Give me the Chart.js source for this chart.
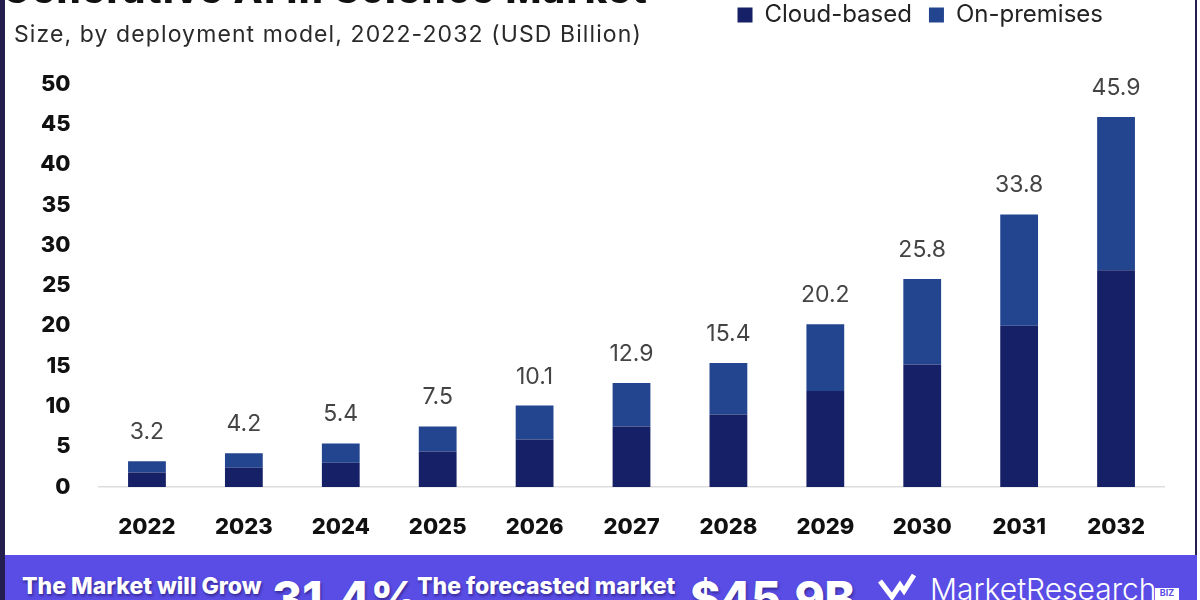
<!DOCTYPE html>
<html>
<head>
<meta charset="utf-8">
<script src="https://cdn.jsdelivr.net/npm/chart.js@4.4.1/dist/chart.umd.min.js"></script>
<style>
  html, body { margin: 0; padding: 0; background: #ffffff; }
  #wrap { position: relative; width: 1200px; height: 600px; overflow: hidden; background: #ffffff; font-family: Inter, "Noto Sans", sans-serif; }
  #chart { position: absolute; left: 0; top: 0; }
  .bl { position: absolute; left: 0; top: 0; width: 5px; height: 600px; background: #231e4e; }
  .br { position: absolute; left: 1195px; top: 0; width: 2px; height: 555px; background: #231e4e; }
  #title { position: absolute; left: 2px; top: -30px; font-size: 38px; font-weight: 800; color: #111; line-height: 1; white-space: nowrap; letter-spacing: 1.5px; }
  #subtitle { position: absolute; left: 14px; top: 23px; font-size: 23px; font-weight: 400; color: #2a2a2a; line-height: 1; white-space: nowrap; letter-spacing: 1.1px; }
  #banner { position: absolute; left: 0; top: 555px; width: 1197px; height: 45px; background: #5a4de6; }
  .bt { position: absolute; color: #ffffff; line-height: 1; white-space: nowrap; text-shadow: 1px 2px 3px rgba(20,10,80,0.55); }
</style>
</head>
<body>
<div id="wrap">
  <canvas id="chart" width="1200" height="600"></canvas>
  <div id="title">Generative AI in Science Market</div>
  <div id="subtitle">Size, by deployment model, 2022-2032 (USD Billion)</div>
  <div id="banner">
    <div class="bt" style="left:22px; top:20px; font-size:23px; font-weight:800;">The Market will Grow</div>
    <div class="bt" style="left:272px; top:20px; font-size:46px; font-weight:800;">31.4%</div>
    <div class="bt" style="left:417px; top:20px; font-size:23px; font-weight:800;">The forecasted market</div>
    <div class="bt" style="left:690px; top:20px; font-size:46px; font-weight:800; letter-spacing:-0.5px;">$45.9B</div>
    <svg style="position:absolute; left:878px; top:18px;" width="40" height="30" viewBox="0 0 40 30">
      <path d="M2 8 L14 24 L22 12 L26 18 L36 2" fill="none" stroke="#ffffff" stroke-width="5" stroke-linejoin="miter"/>
    </svg>
    <div class="bt" style="left:930px; top:19px; font-size:30px; font-weight:300; text-shadow:none;">MarketResearch</div>
    <div class="bt" style="left:1155px; top:33px; width:24px; height:14px; background:#ffffff; color:#5a4de6; font-size:9px; font-weight:700; text-align:center; text-shadow:none;">BIZ</div>
  </div>
  <div class="bl"></div>
  <div class="br"></div>
</div>
<script>
const categories = ['2022', '2023', '2024', '2025', '2026', '2027', '2028', '2029', '2030', '2031', '2032'];
const cloudBased = [1.8, 2.4, 3.0, 4.4, 5.9, 7.5, 9.0, 11.9, 15.2, 20.0, 26.9];
const onPremises = [1.4, 1.8, 2.4, 3.1, 4.2, 5.4, 6.4, 8.3, 10.6, 13.8, 19.0];
const totals = [3.2, 4.2, 5.4, 7.5, 10.1, 12.9, 15.4, 20.2, 25.8, 33.8, 45.9];
const yTicks = [0, 5, 10, 15, 20, 25, 30, 35, 40, 45, 50];

const FONT = 'Inter, "Noto Sans", sans-serif';

const legendPlace = {
  id: 'legendPlace',
  afterLayout(chart) {
    const lg = chart.legend;
    if (!lg) return;
    const h = lg.bottom - lg.top;
    lg.top = -14;
    lg.bottom = lg.top + h;
    lg.right = 1120;
    lg.adjustHitBoxes();
  }
};

const totalLabels = {
  id: 'totalLabels',
  afterDatasetsDraw(chart) {
    const ctx = chart.ctx;
    const meta = chart.getDatasetMeta(1);
    ctx.save();
    ctx.font = '400 23px ' + FONT;
    ctx.fillStyle = '#444444';
    ctx.textAlign = 'center';
    ctx.textBaseline = 'middle';
    meta.data.forEach((el, i) => {
      ctx.fillText(totals[i].toFixed(1), el.x, el.y - 29);
    });
    ctx.restore();
  }
};

new Chart(document.getElementById('chart'), {
  type: 'bar',
  data: {
    labels: categories,
    datasets: [
      { label: 'Cloud-based', data: cloudBased, backgroundColor: '#162066', borderWidth: 0, stack: 's' },
      { label: 'On-premises', data: onPremises, backgroundColor: '#23458f', borderWidth: 0, stack: 's' }
    ]
  },
  options: {
    responsive: false,
    animation: false,
    devicePixelRatio: 1,
    categoryPercentage: 1.0,
    barPercentage: 0.39,
    layout: { padding: { left: 0, right: 35.5, top: 33, bottom: 0 } },
    plugins: {
      tooltip: { enabled: false },
      title: { display: false },
      legend: {
        display: true,
        position: 'top',
        align: 'end',
        labels: {
          boxWidth: 15,
          boxHeight: 15,
          padding: 17,
          color: '#222222',
          font: { family: FONT, size: 24, weight: '400' }
        }
      }
    },
    scales: {
      x: {
        stacked: true,
        grid: { display: false, drawTicks: false },
        border: { display: true, color: '#dddddd', width: 1.5 },
        ticks: { color: '#111111', padding: 27, font: { family: FONT, size: 22, weight: '800' } },
        afterFit(s) { s.height = 113; }
      },
      y: {
        stacked: true,
        min: 0,
        max: 50,
        afterBuildTicks(s) { s.ticks = yTicks.map(v => ({ value: v })); },
        grid: { display: false, drawTicks: false },
        border: { display: false },
        ticks: { color: '#111111', padding: 28, font: { family: FONT, size: 22, weight: '800' } },
        afterFit(s) { s.width = 98.5; }
      }
    }
  },
  plugins: [legendPlace, totalLabels]
});
</script>
</body>
</html>
